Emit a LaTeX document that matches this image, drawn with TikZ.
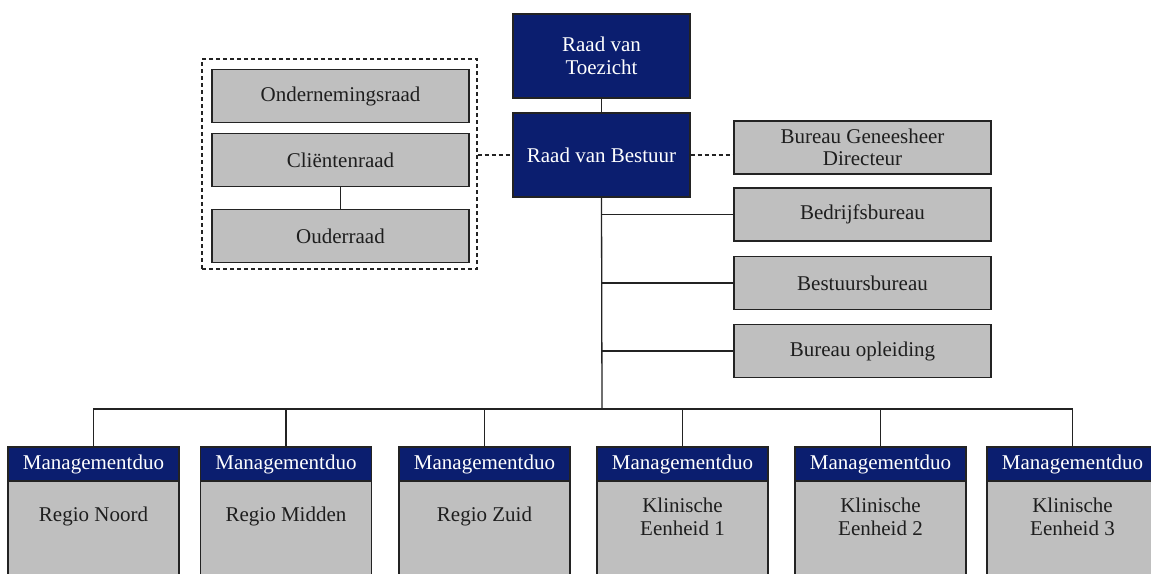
\documentclass[tikz,border=0pt]{standalone}
\usepackage{fontspec}
\setmainfont{Liberation Serif}
\definecolor{navy}{RGB}{11,30,111}
\definecolor{boxgray}{RGB}{191,191,191}
\definecolor{linec}{RGB}{35,35,35}
\definecolor{textc}{RGB}{30,30,30}
\tikzset{
  basebox/.style={draw=linec, line width=1.3pt, align=center, inner sep=2pt,
    font=\fontsize{21}{22.5}\selectfont},
  navybox/.style={basebox, fill=navy, text=white},
  graybox/.style={basebox, fill=boxgray, text=textc},
  topbox/.style={navybox, minimum width=177pt, minimum height=84pt},
  sidebox/.style={graybox, minimum width=257pt, minimum height=53pt},
  headbox/.style={navybox, minimum width=171pt, minimum height=34pt},
  bodybox/.style={graybox, minimum width=171pt, minimum height=120pt, anchor=north},
  bodytext/.style={align=center, text=textc, inner sep=0pt, font=\fontsize{21}{22.5}\selectfont},
  conn/.style={draw=linec, line width=1.3pt},
  dashconn/.style={conn, dash pattern=on 4pt off 3pt},
  dashframe/.style={draw=linec, line width=1.3pt, dash pattern=on 4pt off 3pt, minimum width=275pt, minimum height=210pt, inner sep=0pt}
}
\begin{document}
\begin{tikzpicture}[x=1pt,y=-1pt]
\useasboundingbox (0,0) rectangle (1151,573);
\clip (0,0) rectangle (1151,573);
\fill[white] (0,0) rectangle (1151,573);

% top
\node[topbox] (rvt) at (601.5,56) {Raad van\\Toezicht};
\node[topbox] (rvb) at (601.5,155) {Raad van Bestuur};

% councils
\node[dashframe] (frame) at (339.5,164) {};
\node[sidebox] (or) at (340.5,96) {Ondernemingsraad};
\node[sidebox] (cr) at (340.5,160) {Cliëntenraad};
\node[sidebox] (oud) at (340.5,236) {Ouderraad};

% right side
\node[sidebox] (bgd) at (862.5,147.5) {Bureau Geneesheer\\Directeur};
\node[sidebox] (bb) at (862.5,214.5) {Bedrijfsbureau};
\node[sidebox] (bsb) at (862.5,283) {Bestuursbureau};
\node[sidebox] (bo) at (862.5,351) {Bureau opleiding};

% bottom
\foreach \i/\x in {1/93.5,2/286,3/484.5,4/682.5,5/880.5,6/1072.5}{
  \node[bodybox] (bd\i) at (\x,480) {};
  \node[headbox] (h\i) at (\x,464) {Managementduo};
}
\node[bodytext] (t1) at (93.5,516) {Regio Noord};
\node[bodytext] (t2) at (286,516) {Regio Midden};
\node[bodytext] (t3) at (484.5,516) {Regio Zuid};
\node[bodytext] (t4) at (682.5,517) {Klinische\\Eenheid 1};
\node[bodytext] (t5) at (880.5,517) {Klinische\\Eenheid 2};
\node[bodytext] (t6) at (1072.5,517) {Klinische\\Eenheid 3};

% connectors
\coordinate (bus) at (602,409);
\draw[conn] (rvt.south) -- (rvb.north);
\draw[conn] (cr.south) -- (oud.north);
\draw[dashconn] (frame.east |- rvb.west) -- (rvb.west);
\draw[dashconn] (rvb.east) -- (rvb.east -| bgd.west);
\draw[conn] (rvb.south) -- (bus);
\draw[conn] (bus |- bb.west) -- (bb.west);
\draw[conn] (bus |- bsb.west) -- (bsb.west);
\draw[conn] (bus |- bo.west) -- (bo.west);
\draw[conn] (h1.north) -- (h1.north |- bus) -- (h6.north |- bus) -- (h6.north);
\foreach \i in {2,3,4,5}{
  \draw[conn] (h\i.north) -- (h\i.north |- bus);
}
\end{tikzpicture}
\end{document}
